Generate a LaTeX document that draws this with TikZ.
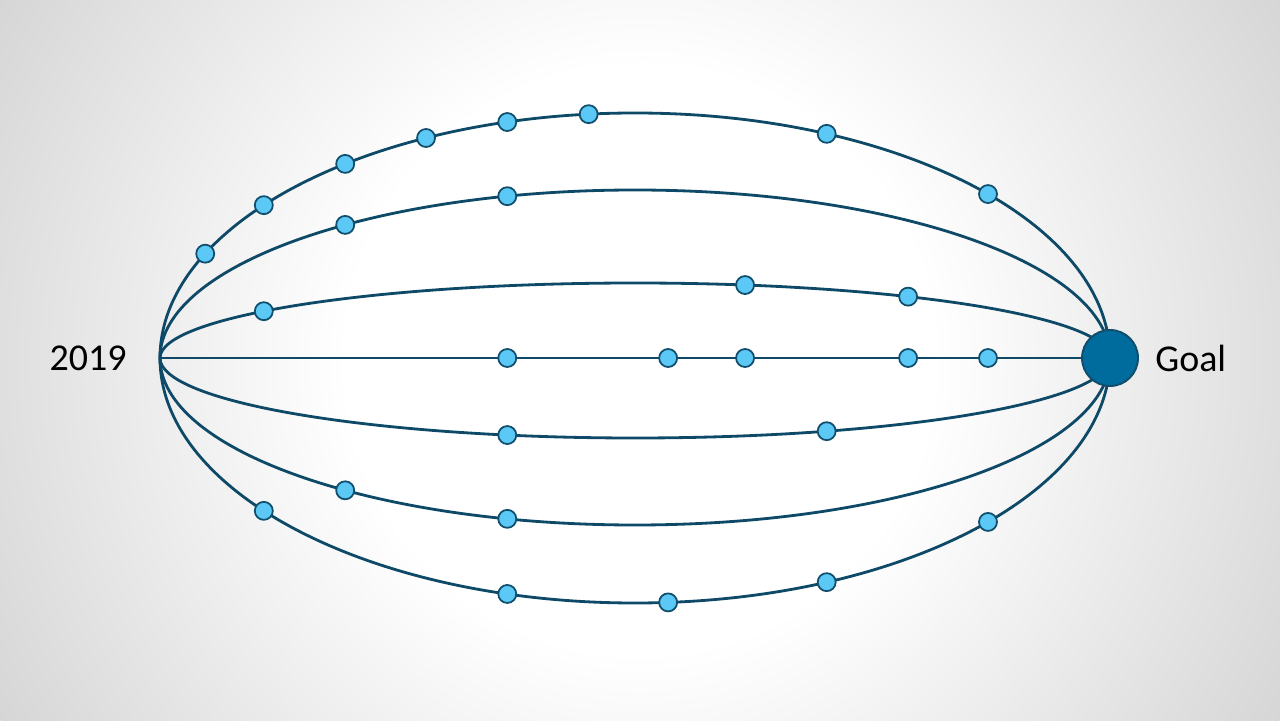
\documentclass[tikz,border=0pt]{standalone}
\usepackage{fontspec}
\setmainfont{Carlito}
\usetikzlibrary{positioning}
\definecolor{pathblue}{RGB}{14,74,104}
\definecolor{dotfill}{RGB}{92,200,246}
\definecolor{dotline}{RGB}{16,78,108}
\definecolor{goalfill}{RGB}{0,107,157}
\definecolor{bgcorner}{RGB}{214,214,214}
\pgfdeclareradialshading{slidebg}{\pgfpoint{0bp}{0bp}}{color(0bp)=(white); color(10bp)=(white); color(25bp)=(bgcorner); color(50bp)=(bgcorner)}

\begin{document}
\begin{tikzpicture}[x=0.02cm, y=0.02cm,
    route/.style={draw=pathblue, line width=1.6pt},
    dot/.style={circle, draw=dotline, fill=dotfill, line width=1pt, minimum size=0.36cm, inner sep=0pt},
    goal/.style={circle, draw=dotline, fill=goalfill, line width=1.1pt, minimum size=1.12cm, inner sep=0pt},
    year/.style={font=\fontsize{21.6}{26}\selectfont, inner sep=0pt}]
  \useasboundingbox (0,0) rectangle (1280,720);
  \begin{scope}
    \clip (0,0) rectangle (1280,720);
    \shade[shading=slidebg] (640,360) circle (734);
  \end{scope}
  \coordinate (start) at (160,362);
  \coordinate (centre) at (635,362);
  \coordinate (end) at (1110,362);
  % routes to the goal
  \foreach \r in {245,168,75}
    \draw[route] (start) arc[start angle=180, end angle=0, x radius=475, y radius=\r];
  \foreach \r in {80,167,245}
    \draw[route] (start) arc[start angle=180, end angle=360, x radius=475, y radius=\r];
  \draw[route] (start) -- (end);
  % milestones
  \foreach \t/\r [count=\i] in {154.8/245, 141.4/245, 127.6/245, 116.1/245, 105.6/245, 95.6/245, 66.2/245, 42.0/245,
                               127.6/168, 105.6/168,
                               141.4/75, 76.6/75, 54.9/75,
                               105.6/0, 86.0/0, 76.6/0, 54.9/0, 42.0/0,
                               -105.6/80, -66.2/80,
                               -127.6/167, -105.6/167,
                               -141.4/245, -105.6/245, -86.0/245, -66.2/245, -42.0/245}
    \path (centre) ++(\t:475 and \r) node[dot] (m\i) {};
  \node[goal] (goal) at (end) {};
  \node[year, left=0.66cm of start] (y2019) {2019};
  \node[year, right=0.32cm of goal] (goaltext) {Goal};
\end{tikzpicture}
\end{document}
